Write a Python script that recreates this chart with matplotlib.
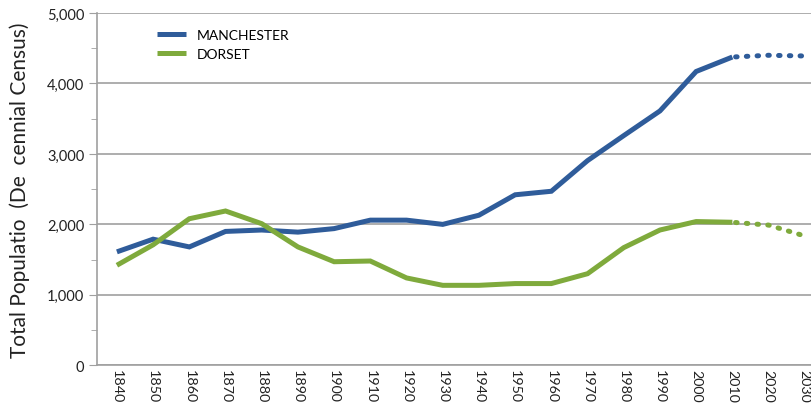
import matplotlib
matplotlib.use("Agg")
import matplotlib.pyplot as plt
from matplotlib.ticker import MultipleLocator, FuncFormatter

years = [str(y) for y in range(1840, 2040, 10)]
manchester = [1610, 1790, 1680, 1900, 1920, 1890, 1940, 2060, 2060, 2000,
              2130, 2420, 2470, 2905, 3260, 3610, 4170, 4375, 4400, 4390]
dorset = [1420, 1710, 2080, 2190, 2010, 1680, 1470, 1480, 1240, 1135,
          1135, 1160, 1160, 1300, 1670, 1920, 2040, 2030, 1990, 1835]
split = 17  # index of 2010: solid up to here, dotted after

blue = "#2f5c9a"
green = "#7faa3c"

plt.rcParams['font.family'] = ['Lato', 'DejaVu Sans']

fig = plt.figure(figsize=(8.12, 4.06), dpi=100)
ax = fig.add_axes([97/812, 39.7/406, 1 - 97/812, (366.3-14)/406])

x = list(range(len(years)))
lw = 3.6
ax.plot(x[:split+1], manchester[:split+1], color=blue, lw=lw, label="MANCHESTER",
        solid_capstyle='butt', solid_joinstyle='miter', zorder=3)
ax.plot(x[:split+1], dorset[:split+1], color=green, lw=lw, label="DORSET",
        solid_capstyle='butt', solid_joinstyle='miter', zorder=3)
ax.plot(x[split:], manchester[split:], color=blue, lw=lw, linestyle=(1.5, (0.3, 1.85)),
        dash_capstyle='round', zorder=3)
ax.plot(x[split:], dorset[split:], color=green, lw=lw, linestyle=(1.5, (0.3, 1.85)),
        dash_capstyle='round', zorder=3)

ax.set_xlim(-0.55, 19.2)
ax.set_ylim(0, 5000)
ax.set_xticks(x)
ax.set_xticklabels(years, rotation=270, fontsize=10.3, color="#222222")
ax.tick_params(axis='x', length=0, pad=3)
ax.yaxis.set_major_locator(MultipleLocator(1000))
ax.yaxis.set_minor_locator(MultipleLocator(500))
ax.yaxis.set_major_formatter(FuncFormatter(lambda v, p: f"{int(v):,}"))
ax.tick_params(axis='y', which='major', length=6, color="#a0a0a0", labelsize=10.5,
               labelcolor="#222222", pad=3)
ax.tick_params(axis='y', which='minor', length=4, color="#a0a0a0")
ax.grid(axis='y', which='major', color="#a0a0a0", lw=1.2, zorder=0)
for s in ['top', 'right']:
    ax.spines[s].set_visible(False)
for s in ['left', 'bottom']:
    ax.spines[s].set_color("#a0a0a0")
    ax.spines[s].set_linewidth(1.2)

ax.set_ylabel("Total Populatio  (De  cennial Census)", fontsize=15, color="#222222", labelpad=12)

leg = ax.legend(loc='upper left', bbox_to_anchor=(0.066, 0.99), frameon=False,
                fontsize=10, handlelength=2.1, handletextpad=0.8, labelspacing=0.5)

fig.savefig("out.png", dpi=100)
